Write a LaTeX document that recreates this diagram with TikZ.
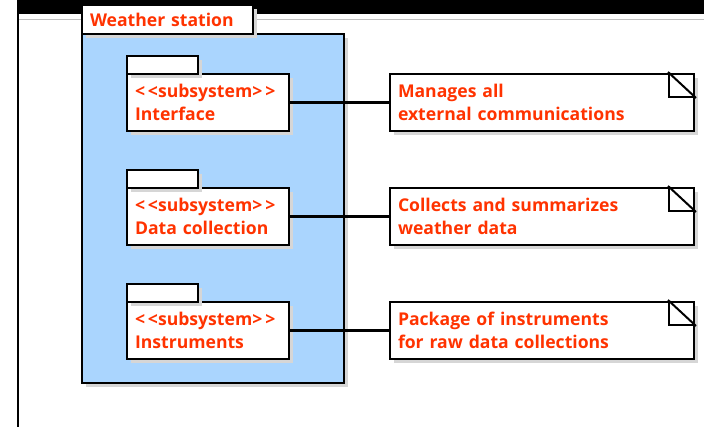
\documentclass[tikz,border=0pt]{standalone}
\usepackage{fontspec}
\setmainfont{Open Sans}
\usetikzlibrary{positioning,shadows}

\definecolor{pkgblue}{RGB}{170,213,254}
\definecolor{umlred}{RGB}{255,51,0}

\begin{document}
\begin{tikzpicture}[
  x=1pt, y=-1pt,
  every node/.style={draw,line width=2pt,inner sep=0pt,outer sep=0pt,text=umlred,
    font=\bfseries\fontsize{17.6}{23}\selectfont},
  shade/.style={drop shadow={shadow xshift=4pt,shadow yshift=-4pt,fill=black!16,opacity=1}},
  wsbody/.style={fill=pkgblue,minimum width=262pt,minimum height=349pt,shade},
  wstab/.style={fill=white,anchor=south west,text width=155pt,inner xsep=8pt,minimum height=29pt,align=left,shade},
  subbody/.style={fill=white,text width=146pt,inner xsep=8pt,minimum height=57pt,align=left,shade},
  subtab/.style={fill=white,anchor=south west,minimum width=71pt,minimum height=18pt,shade},
  note/.style={fill=white,text width=288pt,inner xsep=8pt,minimum height=57pt,align=left,shade},
  link/.style={line width=2.2pt},
  ]
  \useasboundingbox (0,0) rectangle (704,427);
  \fill[white] (0,0) rectangle (704,427);
  \fill[black] (17,0) rectangle (704,14);
  \draw[black!25,line width=1pt] (17,19.5) -- (704,19.5);
  \draw[line width=2pt] (18,0) -- (18,427);

  \node[wsbody] (WS) at (213,208.5) {};
  \node[wstab] (WSTab) at (WS.north west) {Weather station};

  \node[subbody] (Inter) at (208,102.5) {<\,<subsystem>\,>\\Interface};
  \node[subbody, below=57pt of Inter] (Data) {<\,<subsystem>\,>\\Data collection};
  \node[subbody, below=57pt of Data] (Instr) {<\,<subsystem>\,>\\Instruments};
  \node[subtab] (InterTab) at (Inter.north west) {};
  \node[subtab] (DataTab) at (Data.north west) {};
  \node[subtab] (InstrTab) at (Instr.north west) {};

  \node[note, right=101pt of Inter] (InterNote) {Manages all\\external communications};
  \node[note, right=101pt of Data] (DataNote) {Collects and summarizes\\weather data};
  \node[note, right=101pt of Instr] (InstrNote) {Package of instruments\\for raw data collections};

  \draw[link] (Inter) -- (InterNote);
  \draw[link] (Data) -- (DataNote);
  \draw[link] (Instr) -- (InstrNote);

  % dog ears
  \draw[line width=2pt] (InterNote.north east) ++(-25,0) rectangle ++(25,23);
  \draw[line width=2pt] (InterNote.north east) ++(-26,-2) -- ++(28,26);
  \draw[line width=2pt] (DataNote.north east) ++(-25,0) rectangle ++(25,23);
  \draw[line width=2pt] (DataNote.north east) ++(-26,-2) -- ++(28,26);
  \draw[line width=2pt] (InstrNote.north east) ++(-25,0) rectangle ++(25,23);
  \draw[line width=2pt] (InstrNote.north east) ++(-26,-2) -- ++(28,26);
\end{tikzpicture}
\end{document}
